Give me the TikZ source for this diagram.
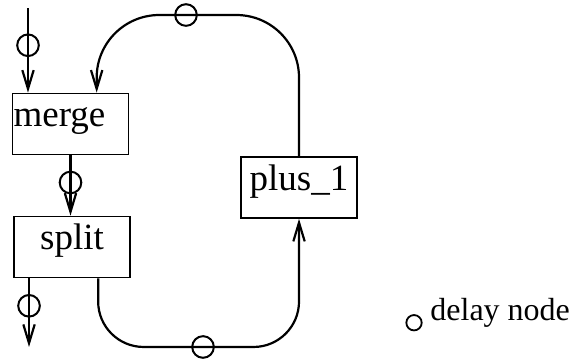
\documentclass[tikz,border=0pt]{standalone}
\usepackage{fontspec}
\setmainfont{Liberation Serif}
\usepackage{tikz}
\usetikzlibrary{arrows.meta}
\usetikzlibrary{positioning}

\begin{document}
\begin{tikzpicture}[
  box/.style={rectangle,draw=black,line width=0.9pt,minimum width=2.04cm,minimum height=1.07cm,
    inner ysep=0pt,inner xsep=0.02cm,text height=0.5cm,text depth=0.395cm,
    font=\fontsize{18.5}{20}\selectfont},
  delay/.style={circle,draw=black,line width=1pt,minimum size=0.38cm,inner sep=0pt},
  link/.style={line width=1.1pt,>={Straight Barb[length=0.33cm,width=0.2cm]}}]
\useasboundingbox (0,0) rectangle (10,6.362);
\node at (1.239,4.183)[box,text width=2.0cm,align=left](merge){merge};
\node at (1.265,2.021)[box](split){split};
\node at (5.255,3.067)[box](plus){plus\_1};
\coordinate (in) at (0.492,6.221);
\coordinate (out) at (0.510,0.264);
\coordinate (mergein) at ([xshift=0.46cm]merge.north);
\coordinate (splitout) at ([xshift=0.46cm]split.south);
\node at (3.269,6.098)[delay](dtop){};
\node at (3.568,0.264)[delay](dbot){};
\draw[link,->] (in) -- node[delay,pos=0.44](din){} (in |- merge.north);
\draw[link,->] (merge.south) -- node[delay,pos=0.45](dmid){} (merge.south |- split.north);
\draw[link,->] (split.south -| out) -- node[delay,pos=0.4](dout){} (out);
\draw[link,->,rounded corners=0.8cm] (splitout) |- (plus.south |- dbot.center) -- (plus.south);
\draw[link,->,rounded corners=1.1cm] (plus.north) |- (mergein |- dtop.center) -- (mergein);
% legend
\node at (7.276,0.690)[circle,draw=black,line width=0.9pt,minimum size=0.27cm,inner sep=0pt](key){};
\node at (7.557,0.738)[anchor=base west,inner sep=0pt,font=\fontsize{16}{18}\selectfont](keytext){delay node};
\end{tikzpicture}
\end{document}
